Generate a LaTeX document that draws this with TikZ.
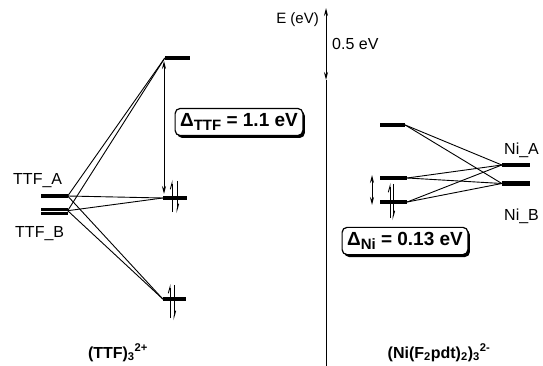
\documentclass[tikz,border=0pt]{standalone}
\usepackage{fontspec}
\setmainfont{Liberation Sans}
\usetikzlibrary{arrows.meta,calc,shadows}
\tikzset{
  niveau/.style={
    fill=black,
    inner sep=0pt,
    minimum width=25pt,
    minimum height=3.4pt
  },
  liaison/.style={
    line width=.9pt
  },
  fleche/.style={
    {Stealth[length=8pt,width=4pt]}-{Stealth[length=8pt,width=4pt]},
    line width=1pt
  },
  spin/.style={
    -{Straight Barb[left,length=6pt,width=3.4pt]},
    line width=.9pt
  },
  etiquette/.style={
    inner sep=0pt,
    font=\fontsize{16}{18}\selectfont
  },
  formule/.style={
    inner sep=0pt,
    font=\bfseries\fontsize{16}{18}\selectfont
  },
  encadre/.style={
    draw,
    line width=1.2pt,
    rounded corners=5pt,
    fill=white,
    inner xsep=5pt,
    inner ysep=5pt,
    font=\bfseries\fontsize{19}{21}\selectfont,
    drop shadow={shadow xshift=2pt, shadow yshift=-2.4pt, opacity=1, fill=black}
  }
}
\newcommand{\indice}[1]{\raisebox{-4pt}{\fontsize{15}{15}\selectfont #1}}

\begin{document}
\begin{tikzpicture}[x=1pt,y=-1pt]
\useasboundingbox (0,0) rectangle (543,366);
% niveaux TTF
\node[niveau, minimum width=27pt] (ttfA) at (54,196) {};
\node[niveau, minimum width=27pt, minimum height=3pt] (ttfB) at (54,209) {};
\node[niveau, minimum width=27pt, minimum height=3pt] (ttfBb) at (54,213.5) {};
\node[niveau] (ttfhaut) at (177.5,58) {};
\node[niveau, minimum width=24pt] (ttfmil) at (175,198) {};
\node[niveau, minimum width=23pt] (ttfbas) at (174.5,299) {};
% niveaux Ni
\node[niveau] (nihaut) at (392.5,125) {};
\node[niveau, minimum width=27pt] (nimil) at (393.5,178) {};
\node[niveau, minimum width=27pt] (nibas) at (393.5,202) {};
\node[niveau, minimum width=28pt] (niA) at (516,165) {};
\node[niveau, minimum width=28pt, minimum height=5.5pt] (niB) at (516,183.5) {};
% liaisons
\foreach \g in {ttfA.east,ttfB.south east}
  \foreach \d in {ttfhaut.west,ttfmil.west,ttfbas.west}
    \draw[liaison] (\g) -- (\d);
\foreach \g in {nihaut.east,nimil.east,nibas.east}
  \foreach \d in {niA.west,niB.west}
    \draw[liaison] (\g) -- (\d);
% ecarts
\coordinate (dttf-haut) at (164,61);
\coordinate (dttf-bas) at (164,194);
\coordinate (dni-haut) at (372,175);
\coordinate (dni-bas) at (372,205);
\draw[fleche] (dttf-haut) -- (dttf-bas);
\draw[fleche] (dni-haut) -- (dni-bas);
% spins
\draw[spin] (172,212) -- (172,180);
\draw[spin] (177,181) -- (177,213);
\draw[spin] (170,318) -- (170,284);
\draw[spin] (174,285) -- (174,320);
\draw[spin] (390,218) -- (390,183);
\draw[spin] (393,184) -- (393,220);
% axe
\coordinate (echelle-haut) at (326,8);
\coordinate (echelle-bas) at (326,80);
\coordinate (axe-bas) at (326,366);
\draw[fleche] (echelle-haut) -- (echelle-bas);
\draw[line width=.9pt] (echelle-bas) -- (axe-bas);
\node[etiquette, font=\fontsize{15}{17}\selectfont, anchor=east] (energie) at (319,20) {E (eV)};
\node[etiquette, anchor=west] (demi) at (332,44) {0.5 eV};
% etiquettes
\node[etiquette, anchor=base west] (labA) at (13,185) {TTF\_A};
\node[etiquette, anchor=base west] (labB) at (15,237) {TTF\_B};
\node[etiquette, anchor=base west] (labNiA) at (504,155) {Ni\_A};
\node[etiquette, anchor=base west] (labNiB) at (504,220) {Ni\_B};
\node[encadre] (deltattf) at (239,122) {Δ\indice{TTF} = 1.1 eV};
\node[encadre] (deltani) at (405,241) {Δ\indice{Ni} = 0.13 eV};
\node[formule, anchor=base] (ttf) at (118,358) {(TTF)\textsubscript{3}\textsuperscript{2+}};
\node[formule, anchor=base] (nif) at (439,358) {(Ni(F\textsubscript{2}pdt)\textsubscript{2})\textsubscript{3}\textsuperscript{2-}};
\end{tikzpicture}
\end{document}
